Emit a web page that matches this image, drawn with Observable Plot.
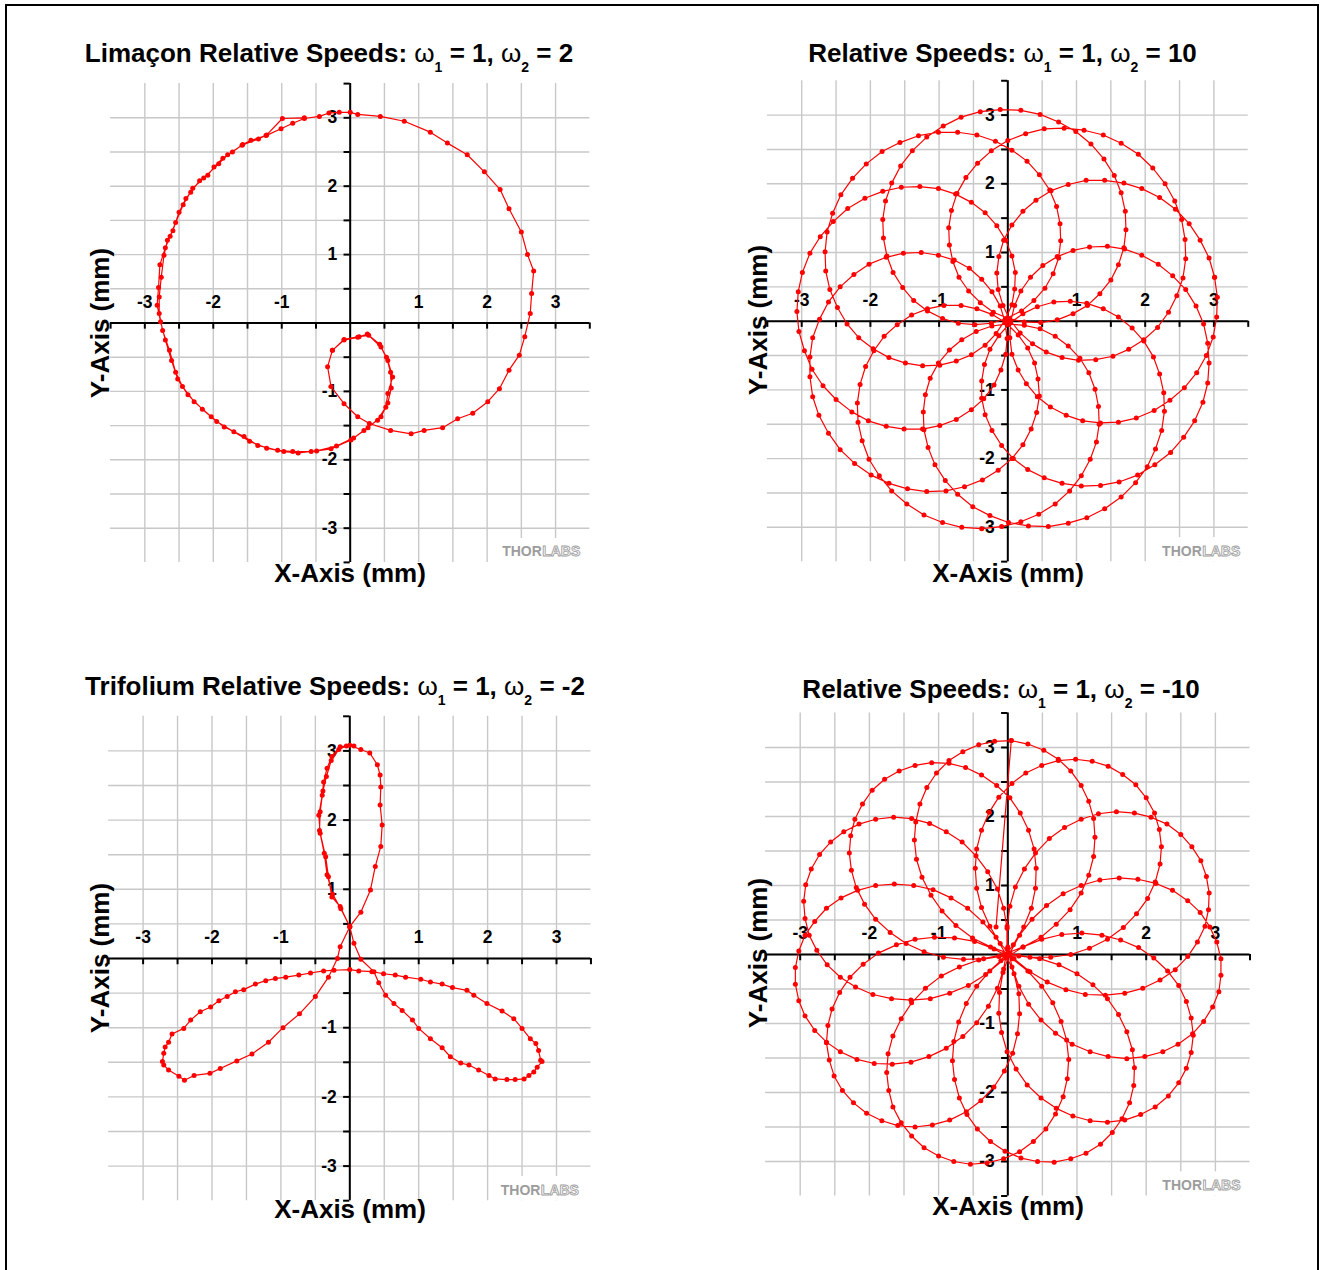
<!DOCTYPE html>
<html>
<head>
<meta charset="utf-8">
<script src="https://cdn.jsdelivr.net/npm/d3@7"></script>
<script src="https://cdn.jsdelivr.net/npm/@observablehq/plot@0.6"></script>
<style>
  html, body { margin: 0; padding: 0; background: #fff; }
  #page { position: relative; width: 1321px; height: 1270px; overflow: hidden;
          font-family: "Liberation Sans", Arial, Helvetica, sans-serif; }
  #frame { position: absolute; left: 5px; top: 4px; width: 1314px; height: 1320px;
           border: 2px solid #000; box-sizing: border-box; }
  .panel { position: absolute; }
  .title, .xlabel, .ylabel { position: absolute; font-weight: bold; font-size: 26px;
           line-height: 26px; white-space: nowrap; color: #000; }
  .title, .xlabel { transform: translateX(-50%); }
  .ylabel { transform: translate(-50%, -50%) rotate(-90deg); }
  .w { font-weight: normal; }
  .sub { position: relative; top: 10px; font-size: 14px; font-weight: bold; }
</style>
</head>
<body>
<div id="page"><div id="frame"></div></div>
<script>
// Axis values shared by all four panels (mm)
const gridLines = [-3, -2.5, -2, -1.5, -1, -0.5, 0, 0.5, 1, 1.5, 2, 2.5, 3];
const tickMarks = [-3.5, -3, -2.5, -2, -1.5, -1, -0.5, 0.5, 1, 1.5, 2, 2.5, 3, 3.5];
const tickLabels = [-3, -2, -1, 1, 2, 3];

// Measured stage trajectory, omega1 = 1, omega2 = 2 (limaçon), [x, y] in mm
const limaconPath = [
  [-0.26,-0.40],[-0.09,-0.25],[0.11,-0.21],[0.25,-0.16],[0.45,-0.35],[0.55,-0.55],[0.62,-0.79],[0.55,-1.03],[0.52,-1.23],[0.40,-1.42],
  [0.20,-1.57],[0.01,-1.71],[-0.28,-1.84],[-0.57,-1.88],[-0.84,-1.88],[-1.06,-1.86],[-1.35,-1.79],[-1.55,-1.66],[-1.84,-1.52],[-2.03,-1.37],
  [-2.28,-1.15],[-2.45,-0.93],[-2.55,-0.72],[-2.64,-0.40],[-2.74,-0.11],[-2.79,0.14],[-2.79,0.38],[-2.76,0.67],[-2.72,0.99],[-2.67,1.21],
  [-2.59,1.35],[-2.50,1.62],[-2.40,1.82],[-2.33,1.91],[-2.20,2.08],[-2.08,2.16],[-1.99,2.28],[-1.86,2.41],[-1.72,2.50],[-1.57,2.61],
  [-1.45,2.67],[-1.23,2.74],[-1.01,2.84],[-0.84,2.92],[-0.67,2.99],[-0.45,3.02],[-0.31,3.07],[-0.16,3.08],[0.00,3.08],[0.11,3.05],
  [0.44,3.02],[0.79,2.95],[1.17,2.79],[1.42,2.63],[1.71,2.46],[1.96,2.21],[2.19,1.95],[2.32,1.67],[2.50,1.33],[2.59,1.00],
  [2.68,0.76],[2.65,0.43],[2.63,0.14],[2.55,-0.20],[2.47,-0.47],[2.32,-0.69],[2.18,-0.96],[2.01,-1.15],[1.79,-1.32],[1.57,-1.40],
  [1.35,-1.53],[1.08,-1.57],[0.89,-1.62],[0.59,-1.57],[0.28,-1.47],[0.11,-1.37],[-0.09,-1.18],[-0.28,-0.93],[-0.33,-0.64],[-0.26,-0.40],
  [-0.09,-0.24],[0.13,-0.20],[0.27,-0.18],[0.43,-0.31],[0.53,-0.50],[0.59,-0.72],[0.60,-0.95],[0.55,-1.17],[0.45,-1.37],[0.26,-1.53],
  [0.05,-1.68],[-0.20,-1.80],[-0.49,-1.87],[-0.76,-1.90],[-0.97,-1.88],[-1.22,-1.83],[-1.47,-1.73],[-1.70,-1.59],[-1.95,-1.44],[-2.16,-1.26],
  [-2.37,-1.05],[-2.52,-0.82],[-2.61,-0.55],[-2.70,-0.25],[-2.77,0.02],[-2.82,0.26],[-2.80,0.52],[-2.78,0.85],[-2.70,1.10],[-2.63,1.27],
  [-2.55,1.47],[-2.44,1.73],[-2.30,1.97],[-2.14,2.12],[-1.92,2.33],[-1.79,2.46],[-1.58,2.60],[-1.34,2.69],[-1.22,2.75],[-0.99,2.99],
  [-0.67,3.00]
];

// Measured stage trajectory, omega1 = 1, omega2 = 10
const speed10Path = [
  [3.01,0.64],[2.93,0.92],[2.80,1.18],[2.64,1.42],[2.44,1.63],[2.21,1.80],[1.95,1.93],[1.69,2.01],[1.41,2.05],[1.14,2.05],
  [0.88,1.99],[0.63,1.90],[0.41,1.76],[0.22,1.60],[0.06,1.40],[-0.06,1.18],[-0.13,0.94],[-0.16,0.70],[-0.14,0.46],[-0.07,0.23],
  [0.03,0.02],[0.18,-0.17],[0.36,-0.33],[0.56,-0.45],[0.79,-0.53],[1.03,-0.57],[1.28,-0.56],[1.53,-0.51],[1.76,-0.41],[1.98,-0.27],
  [2.18,-0.09],[2.34,0.13],[2.46,0.37],[2.55,0.63],[2.59,0.91],[2.58,1.19],[2.53,1.48],[2.43,1.75],[2.29,2.00],[2.11,2.23],
  [1.90,2.43],[1.65,2.59],[1.39,2.71],[1.11,2.78],[0.82,2.81],[0.53,2.80],[0.26,2.73],[0.00,2.63],[-0.24,2.48],[-0.44,2.30],
  [-0.61,2.09],[-0.74,1.86],[-0.82,1.61],[-0.86,1.36],[-0.85,1.11],[-0.80,0.87],[-0.71,0.64],[-0.57,0.44],[-0.40,0.27],[-0.21,0.13],
  [0.01,0.04],[0.24,-0.01],[0.48,-0.02],[0.72,0.02],[0.95,0.11],[1.16,0.23],[1.34,0.40],[1.50,0.60],[1.61,0.82],[1.69,1.07],
  [1.72,1.33],[1.71,1.60],[1.65,1.87],[1.55,2.12],[1.40,2.36],[1.21,2.58],[0.99,2.76],[0.74,2.90],[0.47,3.01],[0.19,3.07],
  [-0.11,3.08],[-0.40,3.05],[-0.68,2.97],[-0.94,2.84],[-1.18,2.68],[-1.39,2.48],[-1.56,2.26],[-1.69,2.01],[-1.78,1.75],[-1.82,1.48],
  [-1.81,1.21],[-1.76,0.95],[-1.67,0.71],[-1.53,0.49],[-1.37,0.30],[-1.17,0.15],[-0.95,0.04],[-0.72,-0.03],[-0.48,-0.05],[-0.24,-0.03],
  [-0.02,0.04],[0.20,0.15],[0.38,0.30],[0.54,0.48],[0.66,0.69],[0.74,0.92],[0.77,1.17],[0.76,1.42],[0.71,1.67],[0.61,1.91],
  [0.46,2.13],[0.28,2.33],[0.06,2.49],[-0.18,2.62],[-0.45,2.71],[-0.73,2.75],[-1.01,2.75],[-1.30,2.70],[-1.57,2.60],[-1.83,2.47],
  [-2.06,2.29],[-2.26,2.08],[-2.43,1.84],[-2.55,1.57],[-2.63,1.30],[-2.66,1.01],[-2.65,0.73],[-2.59,0.46],[-2.48,0.20],[-2.34,-0.04],
  [-2.17,-0.24],[-1.96,-0.40],[-1.73,-0.53],[-1.49,-0.61],[-1.24,-0.65],[-0.99,-0.64],[-0.75,-0.58],[-0.53,-0.49],[-0.33,-0.35],[-0.17,-0.18],
  [-0.04,0.02],[0.06,0.24],[0.10,0.47],[0.11,0.71],[0.06,0.95],[-0.03,1.18],[-0.16,1.39],[-0.33,1.58],[-0.53,1.73],[-0.76,1.85],
  [-1.01,1.93],[-1.28,1.96],[-1.55,1.95],[-1.82,1.89],[-2.08,1.79],[-2.33,1.64],[-2.54,1.45],[-2.73,1.23],[-2.88,0.99],[-2.99,0.71],
  [-3.05,0.43],[-3.07,0.14],[-3.04,-0.15],[-2.96,-0.43],[-2.85,-0.70],[-2.69,-0.94],[-2.50,-1.14],[-2.27,-1.32],[-2.03,-1.45],[-1.77,-1.53],
  [-1.51,-1.57],[-1.24,-1.57],[-0.99,-1.52],[-0.75,-1.43],[-0.53,-1.29],[-0.35,-1.13],[-0.20,-0.93],[-0.10,-0.71],[-0.03,-0.48],[-0.01,-0.25],
  [-0.04,-0.01],[-0.11,0.22],[-0.23,0.43],[-0.38,0.61],[-0.56,0.77],[-0.78,0.89],[-1.01,0.96],[-1.26,1.00],[-1.52,0.99],[-1.77,0.93],
  [-2.02,0.83],[-2.24,0.68],[-2.44,0.50],[-2.61,0.28],[-2.74,0.03],[-2.84,-0.24],[-2.88,-0.52],[-2.88,-0.81],[-2.84,-1.10],[-2.75,-1.37],
  [-2.61,-1.63],[-2.44,-1.87],[-2.23,-2.07],[-1.99,-2.24],[-1.73,-2.36],[-1.46,-2.44],[-1.18,-2.48],[-0.90,-2.47],[-0.63,-2.41],[-0.37,-2.31],
  [-0.14,-2.17],[0.06,-2.00],[0.22,-1.80],[0.34,-1.57],[0.42,-1.33],[0.46,-1.09],[0.44,-0.84],[0.39,-0.61],[0.29,-0.39],[0.15,-0.20],
  [-0.02,-0.03],[-0.23,0.10],[-0.45,0.18],[-0.68,0.23],[-0.93,0.23],[-1.17,0.18],[-1.40,0.09],[-1.61,-0.05],[-1.80,-0.22],[-1.95,-0.43],
  [-2.07,-0.66],[-2.15,-0.92],[-2.19,-1.19],[-2.18,-1.47],[-2.12,-1.74],[-2.02,-2.01],[-1.87,-2.25],[-1.69,-2.47],[-1.47,-2.66],[-1.22,-2.82],
  [-0.95,-2.93],[-0.67,-3.00],[-0.38,-3.02],[-0.09,-2.99],[0.19,-2.92],[0.45,-2.81],[0.69,-2.66],[0.90,-2.47],[1.07,-2.25],[1.20,-2.01],
  [1.29,-1.76],[1.33,-1.50],[1.32,-1.24],[1.27,-0.99],[1.18,-0.75],[1.05,-0.54],[0.88,-0.36],[0.69,-0.22],[0.47,-0.11],[0.24,-0.06],
  [0.00,-0.04],[-0.23,-0.07],[-0.46,-0.15],[-0.67,-0.27],[-0.85,-0.42],[-1.01,-0.61],[-1.13,-0.83],[-1.20,-1.07],[-1.23,-1.32],[-1.22,-1.58],
  [-1.16,-1.84],[-1.06,-2.09],[-0.91,-2.32],[-0.73,-2.52],[-0.51,-2.70],[-0.26,-2.83],[0.01,-2.93],[0.30,-2.98],[0.59,-2.99],[0.88,-2.94],
  [1.15,-2.86],[1.41,-2.73],[1.65,-2.56],[1.86,-2.35],[2.03,-2.12],[2.15,-1.86],[2.24,-1.59],[2.28,-1.31],[2.27,-1.04],[2.21,-0.77],
  [2.12,-0.52],[1.98,-0.29],[1.81,-0.10],[1.61,0.06],[1.39,0.18],[1.15,0.26],[0.91,0.29],[0.67,0.28],[0.43,0.21],[0.22,0.11],
  [0.03,-0.03],[-0.13,-0.21],[-0.26,-0.41],[-0.34,-0.63],[-0.38,-0.87],[-0.38,-1.12],[-0.33,-1.36],[-0.23,-1.59],[-0.09,-1.81],[0.08,-2.00],
  [0.29,-2.16],[0.53,-2.28],[0.79,-2.36],[1.07,-2.40],[1.35,-2.39],[1.62,-2.34],[1.89,-2.24],[2.14,-2.09],[2.37,-1.91],[2.56,-1.69],
  [2.72,-1.45],[2.84,-1.18],[2.91,-0.90],[2.93,-0.61],[2.91,-0.32],[2.85,-0.04],[2.74,0.22],[2.59,0.46],[2.40,0.66],[2.19,0.83],
  [1.95,0.96],[1.70,1.05],[1.45,1.09],[1.19,1.08],[0.95,1.03],[0.72,0.94],[0.51,0.81],[0.33,0.64],[0.19,0.44],[0.10,0.23],
  [0.04,-0.01],[0.03,-0.24],[0.06,-0.48],[0.15,-0.71],[0.27,-0.91],[0.43,-1.10],[0.62,-1.25],[0.85,-1.37],[1.09,-1.45],[1.35,-1.48],
  [1.61,-1.47],[1.87,-1.41],[2.13,-1.30],[2.36,-1.15],[2.57,-0.97],[2.75,-0.75],[2.89,-0.50],[2.99,-0.23],[3.04,0.06],[3.05,0.35],
  [3.01,0.64]
];

// Measured stage trajectory, omega1 = 1, omega2 = -2 (trifolium)
const trifoliumPath = [
  [0.00,0.46],[-0.14,0.75],[-0.26,0.89],[-0.31,1.18],[-0.35,1.47],[-0.43,1.81],[-0.45,2.07],[-0.40,2.36],[-0.38,2.55],[-0.33,2.75],
  [-0.26,2.92],[-0.14,3.06],[0.00,3.08],[0.16,3.02],[0.29,2.97],[0.40,2.80],[0.44,2.65],[0.45,2.48],[0.44,2.22],[0.47,1.93],
  [0.45,1.62],[0.37,1.33],[0.30,0.99],[0.16,0.67],[0.00,0.46],[-0.14,0.17],[-0.18,0.00],[-0.31,-0.27],[-0.50,-0.55],[-0.73,-0.80],
  [-0.97,-1.00],[-1.18,-1.21],[-1.42,-1.38],[-1.64,-1.48],[-1.88,-1.59],[-2.03,-1.66],[-2.26,-1.69],[-2.40,-1.76],[-2.48,-1.70],[-2.63,-1.61],
  [-2.70,-1.54],[-2.72,-1.49],[-2.70,-1.37],[-2.68,-1.28],[-2.63,-1.21],[-2.58,-1.09],[-2.41,-1.01],[-2.31,-0.89],[-2.17,-0.77],[-2.02,-0.70],
  [-1.90,-0.61],[-1.78,-0.55],[-1.66,-0.48],[-1.54,-0.45],[-1.37,-0.37],[-1.22,-0.32],[-1.08,-0.29],[-0.93,-0.27],[-0.74,-0.24],[-0.57,-0.21],
  [-0.38,-0.18],[-0.23,-0.17],[0.00,-0.16],[0.13,-0.18],[0.32,-0.19],[0.49,-0.22],[0.66,-0.24],[0.81,-0.27],[1.03,-0.30],[1.17,-0.34],
  [1.34,-0.37],[1.49,-0.42],[1.70,-0.46],[1.80,-0.53],[1.99,-0.65],[2.21,-0.76],[2.38,-0.87],[2.50,-1.01],[2.62,-1.16],[2.70,-1.23],
  [2.74,-1.33],[2.77,-1.47],[2.79,-1.49],[2.72,-1.57],[2.67,-1.64],[2.60,-1.69],[2.53,-1.74],[2.40,-1.75],[2.28,-1.75],[2.11,-1.74],
  [2.02,-1.69],[1.87,-1.61],[1.73,-1.54],[1.61,-1.51],[1.46,-1.42],[1.34,-1.29],[1.17,-1.16],[1.00,-1.01],[0.91,-0.89],[0.76,-0.75],
  [0.64,-0.65],[0.52,-0.53],[0.42,-0.35],[0.35,-0.19],[0.16,-0.01],[0.06,0.22],[0.00,0.46],[-0.13,0.72],[-0.25,0.93],[-0.33,1.21],
  [-0.37,1.52],[-0.44,1.85],[-0.43,2.12],[-0.39,2.42],[-0.34,2.63],[-0.27,2.86],[-0.16,3.02],[-0.05,3.07],[0.06,3.07]
];

// Measured stage trajectory, omega1 = 1, omega2 = -10
const speedMinus10Path = [
  [-0.17,0.40],
  [0.05,3.10],[0.29,3.05],[0.52,2.96],[0.73,2.83],[0.91,2.66],[1.06,2.45],[1.17,2.22],[1.24,1.97],[1.26,1.70],[1.24,1.42],
  [1.17,1.15],[1.06,0.89],[0.90,0.65],[0.70,0.44],[0.48,0.25],[0.22,0.11],[-0.06,0.00],[-0.35,-0.06],[-0.64,-0.07],[-0.93,-0.04],
  [-1.21,0.04],[-1.47,0.16],[-1.70,0.32],[-1.91,0.51],[-2.07,0.73],[-2.19,0.97],[-2.26,1.22],[-2.29,1.47],[-2.27,1.72],[-2.21,1.96],
  [-2.10,2.18],[-1.96,2.38],[-1.78,2.54],[-1.57,2.66],[-1.34,2.74],[-1.10,2.78],[-0.85,2.77],[-0.61,2.71],[-0.38,2.60],[-0.16,2.45],
  [0.03,2.27],[0.18,2.05],[0.30,1.80],[0.38,1.53],[0.41,1.25],[0.40,0.96],[0.34,0.67],[0.23,0.40],[0.08,0.14],[-0.10,-0.09],
  [-0.32,-0.29],[-0.57,-0.45],[-0.84,-0.56],[-1.12,-0.64],[-1.40,-0.66],[-1.68,-0.64],[-1.95,-0.58],[-2.20,-0.47],[-2.42,-0.33],[-2.61,-0.15],
  [-2.76,0.06],[-2.87,0.28],[-2.93,0.52],[-2.95,0.77],[-2.92,1.01],[-2.84,1.24],[-2.72,1.45],[-2.56,1.63],[-2.37,1.78],[-2.15,1.89],
  [-1.91,1.96],[-1.65,1.99],[-1.39,1.97],[-1.13,1.90],[-0.89,1.78],[-0.66,1.63],[-0.46,1.43],[-0.29,1.20],[-0.15,0.95],[-0.06,0.67],
  [-0.01,0.38],[-0.01,0.08],[-0.06,-0.21],[-0.15,-0.49],[-0.28,-0.75],[-0.45,-0.99],[-0.65,-1.19],[-0.89,-1.36],[-1.14,-1.48],[-1.40,-1.56],
  [-1.67,-1.59],[-1.93,-1.58],[-2.18,-1.52],[-2.42,-1.41],[-2.62,-1.27],[-2.79,-1.10],[-2.93,-0.89],[-3.02,-0.67],[-3.07,-0.43],[-3.07,-0.19],
  [-3.02,0.05],[-2.93,0.28],[-2.79,0.48],[-2.62,0.67],[-2.41,0.82],[-2.17,0.93],[-1.91,1.00],[-1.64,1.02],[-1.36,1.00],[-1.08,0.94],
  [-0.82,0.82],[-0.58,0.67],[-0.36,0.47],[-0.17,0.25],[-0.02,-0.01],[0.09,-0.28],[0.16,-0.57],[0.17,-0.86],[0.14,-1.15],[0.07,-1.43],
  [-0.05,-1.69],[-0.20,-1.92],[-0.39,-2.12],[-0.60,-2.28],[-0.84,-2.40],[-1.09,-2.47],[-1.34,-2.50],[-1.59,-2.48],[-1.82,-2.41],[-2.04,-2.30],
  [-2.23,-2.15],[-2.39,-1.97],[-2.51,-1.76],[-2.58,-1.53],[-2.62,-1.28],[-2.60,-1.03],[-2.54,-0.79],[-2.43,-0.55],[-2.28,-0.33],[-2.09,-0.14],
  [-1.87,0.02],[-1.61,0.14],[-1.34,0.22],[-1.06,0.25],[-0.77,0.24],[-0.48,0.19],[-0.20,0.08],[0.06,-0.06],[0.29,-0.24],[0.49,-0.46],
  [0.65,-0.70],[0.77,-0.97],[0.85,-1.24],[0.88,-1.52],[0.86,-1.80],[0.80,-2.06],[0.69,-2.31],[0.55,-2.53],[0.37,-2.71],[0.17,-2.86],
  [-0.06,-2.96],[-0.30,-3.02],[-0.54,-3.04],[-0.78,-3.00],[-1.00,-2.92],[-1.21,-2.80],[-1.39,-2.63],[-1.54,-2.44],[-1.66,-2.21],[-1.72,-1.97],
  [-1.75,-1.71],[-1.73,-1.44],[-1.66,-1.18],[-1.54,-0.93],[-1.39,-0.70],[-1.19,-0.49],[-0.96,-0.31],[-0.70,-0.18],[-0.42,-0.08],[-0.13,-0.03],
  [0.16,-0.02],[0.46,-0.06],[0.74,-0.15],[1.00,-0.28],[1.23,-0.44],[1.44,-0.64],[1.60,-0.87],[1.72,-1.12],[1.80,-1.38],[1.83,-1.64],
  [1.82,-1.90],[1.76,-2.15],[1.65,-2.38],[1.51,-2.58],[1.34,-2.75],[1.13,-2.88],[0.91,-2.96],[0.67,-3.01],[0.43,-3.00],[0.19,-2.95],
  [-0.04,-2.85],[-0.25,-2.71],[-0.44,-2.53],[-0.59,-2.32],[-0.70,-2.08],[-0.77,-1.81],[-0.80,-1.54],[-0.78,-1.26],[-0.71,-0.98],[-0.60,-0.71],
  [-0.45,-0.46],[-0.26,-0.24],[-0.03,-0.05],[0.22,0.11],[0.49,0.22],[0.78,0.29],[1.07,0.31],[1.36,0.28],[1.63,0.21],[1.89,0.10],
  [2.11,-0.05],[2.31,-0.24],[2.47,-0.45],[2.58,-0.68],[2.65,-0.92],[2.68,-1.17],[2.65,-1.42],[2.58,-1.65],[2.47,-1.86],[2.32,-2.05],
  [2.13,-2.21],[1.92,-2.32],[1.69,-2.40],[1.44,-2.43],[1.19,-2.41],[0.94,-2.34],[0.70,-2.23],[0.48,-2.08],[0.28,-1.89],[0.12,-1.66],
  [-0.01,-1.41],[-0.09,-1.13],[-0.13,-0.85],[-0.12,-0.55],[-0.07,-0.26],[0.03,0.02],[0.17,0.28],[0.35,0.51],[0.56,0.71],[0.80,0.88],
  [1.06,1.00],[1.33,1.08],[1.61,1.11],[1.88,1.09],[2.14,1.03],[2.38,0.93],[2.60,0.78],[2.78,0.61],[2.92,0.40],[3.02,0.18],
  [3.08,-0.06],[3.08,-0.30],[3.05,-0.54],[2.96,-0.76],[2.83,-0.97],[2.67,-1.15],[2.46,-1.30],[2.24,-1.41],[1.98,-1.48],[1.72,-1.51],
  [1.45,-1.48],[1.19,-1.41],[0.93,-1.30],[0.69,-1.14],[0.48,-0.95],[0.30,-0.72],[0.16,-0.46],[0.06,-0.18],[0.00,0.11],[-0.01,0.41],
  [0.03,0.70],[0.11,0.98],[0.24,1.24],[0.40,1.47],[0.60,1.68],[0.82,1.84],[1.06,1.96],[1.31,2.04],[1.57,2.07],[1.83,2.05],
  [2.07,1.99],[2.30,1.89],[2.50,1.74],[2.66,1.56],
  [2.79,1.36],[2.87,1.13],[2.91,0.89],[2.90,0.65],[2.85,0.41],[2.74,0.18],[2.60,-0.03],[2.42,-0.22],[2.20,-0.37],[1.95,-0.49],
  [1.69,-0.56],[1.41,-0.59],[1.12,-0.58],[0.84,-0.51],[0.57,-0.40],[0.32,-0.25],[0.09,-0.06],[-0.11,0.16],[-0.26,0.41],[-0.38,0.68],
  [-0.45,0.96],[-0.47,1.25],[-0.45,1.53],[-0.38,1.80],[-0.27,2.06],[-0.13,2.28],[0.06,2.48],[0.26,2.63],[0.49,2.74],[0.73,2.81],
  [0.98,2.83],[1.22,2.80],[1.45,2.73],[1.66,2.61],[1.85,2.46],[2.00,2.27],[2.12,2.05],[2.19,1.81],[2.22,1.56],[2.20,1.31],
  [2.13,1.05],[2.02,0.81],[1.86,0.59],[1.67,0.39],[1.44,0.22],[1.18,0.09],[0.91,0.00],[0.62,-0.04],[0.32,-0.04],[0.03,0.01],
  [-0.25,0.11],[-0.51,0.24],[-0.75,0.42],[-0.95,0.63],[-1.11,0.86],[-1.24,1.12],[-1.32,1.38],[-1.35,1.66],[-1.33,1.92],[-1.27,2.18],
  [-1.17,2.42],[-1.03,2.63],[-0.85,2.81],[-0.65,2.94],[-0.42,3.04],[-0.19,3.09],[0.05,3.10]
];

const omega = (i) => `<span class="w">ω</span><span class="sub">${i}</span>`;

// Page placement of each panel
const panels = [
  { left: 0, top: 0, margins: [83.1, 70.7, 73.1, 110.1], path: limaconPath, wmDx: -9.5,
    title: `Limaçon Relative Speeds: ${omega(1)} = 1, ${omega(2)} = 2`,
    titleX: 329, titleBase: 62, xLabel: [350, 582], yLabel: [100, 323] },
  { left: 660, top: 0, margins: [80.25, 72.25, 73.85, 106.85], path: speed10Path, wmDx: -8,
    title: `Relative Speeds: ${omega(1)} = 1, ${omega(2)} = 10`,
    titleX: 1002.5, titleBase: 62, xLabel: [1008, 582], yLabel: [758, 320] },
  { left: 0, top: 635, margins: [80.8, 69.55, 69.8, 108.15], path: trifoliumPath, wmDx: -12,
    title: `Trifolium Relative Speeds: ${omega(1)} = 1, ${omega(2)} = -2`,
    titleX: 335, titleBase: 695, xLabel: [350, 1218], yLabel: [100, 958] },
  { left: 660, top: 635, margins: [77.5, 70.5, 74.5, 105.1], path: speedMinus10Path, wmDx: -9.5,
    title: `Relative Speeds: ${omega(1)} = 1, ${omega(2)} = -10`,
    titleX: 1001, titleBase: 698, xLabel: [1008, 1215], yLabel: [758, 953] }
];

const page = document.getElementById("page");
const bold = { fontSize: 17.5, fontWeight: "bold", fill: "black" };

for (const p of panels) {
  const [mt, mr, mb, ml] = p.margins;
  const svg = Plot.plot({
    width: 660,
    height: 635,
    marginTop: mt, marginRight: mr, marginBottom: mb, marginLeft: ml,
    x: { domain: [-3.5, 3.5], axis: null },
    y: { domain: [-3.5, 3.5], axis: null },
    style: { background: "transparent", fontFamily: "'Liberation Sans', Arial, sans-serif", overflow: "visible" },
    marks: [
      Plot.ruleX(gridLines, { x: (d) => d, y1: -3.5, y2: 3.5, stroke: "#c8c8c8", strokeWidth: 1.4 }),
      Plot.ruleY(gridLines, { y: (d) => d, x1: -3.5, x2: 3.5, stroke: "#c8c8c8", strokeWidth: 1.4 }),
      Plot.rect([0], { x1: 2.24, x2: 3.5, y1: -3.5, y2: -3.15, fill: "white" }),
      Plot.ruleY([0], { x1: -3.5, x2: 3.5, stroke: "black", strokeWidth: 2 }),
      Plot.ruleX([0], { y1: -3.5, y2: 3.5, stroke: "black", strokeWidth: 2 }),
      Plot.ruleX(tickMarks, { x: (d) => d, y1: 0, y2: -0.09, stroke: "black", strokeWidth: 2 }),
      Plot.ruleY(tickMarks, { y: (d) => d, x1: -0.09, x2: 0, stroke: "black", strokeWidth: 2 }),
      Plot.text(tickLabels, { x: (d) => d, y: 0, dy: -21, text: (d) => String(d), textAnchor: "middle", lineAnchor: "middle", ...bold }),
      Plot.text(tickLabels, { x: 0, y: (d) => d, dx: -13, text: (d) => String(d), textAnchor: "end", lineAnchor: "middle", ...bold }),
      Plot.text(["THOR"], { text: (d) => d, frameAnchor: "bottom-right", dx: p.wmDx - 38.5, dy: -6,
        textAnchor: "end", lineAnchor: "bottom", fontSize: 14, fontWeight: "bold", fill: "#9c9c9c" }),
      Plot.text(["LABS"], { text: (d) => d, frameAnchor: "bottom-right", dx: p.wmDx, dy: -6,
        textAnchor: "end", lineAnchor: "bottom", fontSize: 14, fontWeight: "bold", fill: "white",
        stroke: "#a0a0a0", strokeWidth: 0.9, paintOrder: "fill" }),
      Plot.line(p.path, { x: (d) => d[0], y: (d) => d[1], stroke: "#ff0000", strokeWidth: 1.2 }),
      Plot.dot(p.path, { x: (d) => d[0], y: (d) => d[1], r: 2.5, fill: "#ff0000", stroke: "none" })
    ]
  });
  svg.classList.add("panel");
  svg.style.left = p.left + "px";
  svg.style.top = p.top + "px";
  page.appendChild(svg);

  const t = document.createElement("div");
  t.className = "title";
  t.innerHTML = p.title;
  t.style.left = p.titleX + "px";
  t.style.top = (p.titleBase - 22) + "px";
  page.appendChild(t);

  const xl = document.createElement("div");
  xl.className = "xlabel";
  xl.textContent = "X-Axis (mm)";
  xl.style.left = p.xLabel[0] + "px";
  xl.style.top = (p.xLabel[1] - 22) + "px";
  page.appendChild(xl);

  const yl = document.createElement("div");
  yl.className = "ylabel";
  yl.textContent = "Y-Axis (mm)";
  yl.style.left = p.yLabel[0] + "px";
  yl.style.top = p.yLabel[1] + "px";
  page.appendChild(yl);
}
</script>
</body>
</html>
